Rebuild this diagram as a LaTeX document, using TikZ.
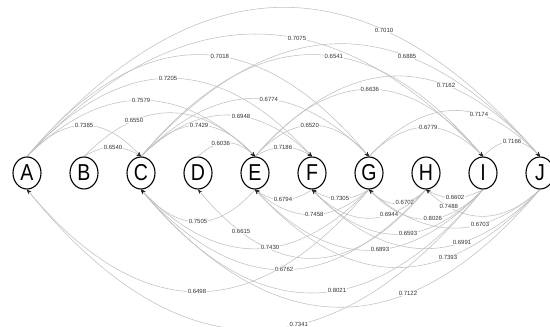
\documentclass[tikz,border=0pt]{standalone}
\usepackage{fontspec}
\setmainfont{Liberation Sans}
\usetikzlibrary{calc,shapes.geometric,arrows.meta}

\definecolor{edgegray}{HTML}{C0C0C0}
\definecolor{labgray}{HTML}{333333}

\pgfdeclarelayer{edgelayer}
\pgfsetlayers{edgelayer,main}

\tikzset{
  vert/.style={ellipse, draw=black, line width=1.1pt, fill=white,
    minimum width=28pt, minimum height=32pt, inner sep=0pt,
    font=\fontsize{23}{23}\selectfont},
  edge/.style={draw=edgegray, line width=0.55pt,
    -{Stealth[length=4.5pt,width=3.6pt,color=black!85]}},
  lbl/.style={fill=white, inner sep=0.5pt, text=labgray,
    font=\fontsize{6}{6}\selectfont}
}

% arc above the row: from #1 to #2, label #5 at pos #3, control height #4
\newcommand\overarc[5]{%
  \draw[edge] (#1.north)
    .. controls ($(#1.north)!0.3333!(#2.north)+(0,#4)$)
    and ($(#1.north)!0.6667!(#2.north)+(0,#4)$) .. (#2.north)
    node[lbl,pos=#3]{#5};}
% arc below the row
\newcommand\underarc[5]{%
  \draw[edge] (#1.south)
    .. controls ($(#1.south)!0.3333!(#2.south)+(0,-#4)$)
    and ($(#1.south)!0.6667!(#2.south)+(0,-#4)$) .. (#2.south)
    node[lbl,pos=#3]{#5};}
\newcommand\letter[1]{\scalebox{0.85}[1]{#1}}

\begin{document}
\begin{tikzpicture}[x=1pt,y=1pt]
\useasboundingbox (0,0) rectangle (550,327);

% vertices
\foreach \n [count=\i from 0] in {A,B,C,D,E,F,G,H,I,J}
  \node[vert] (\n) at ({27+57*\i},154) {\letter{\n}};

\begin{pgfonlayer}{edgelayer}
% edges above
\overarc{A}{C}{0.5}{41.3}{0.7385}
\overarc{B}{C}{0.51}{12}{0.6540}
\overarc{D}{E}{0.40}{18}{0.6036}
\overarc{E}{F}{0.49}{12}{0.7186}
\overarc{I}{J}{0.51}{20}{0.7166}
\overarc{C}{E}{0.51}{41.3}{0.7429}
\overarc{E}{G}{0.48}{41.4}{0.6520}
\overarc{G}{I}{0.52}{38.7}{0.6779}
\overarc{A}{E}{0.5}{74.7}{0.7579}
\overarc{E}{I}{0.504}{89.3}{0.6636}
\overarc{A}{F}{0.495}{104}{0.7205}
\overarc{A}{J}{0.696}{198.5}{0.7010}
\overarc{A}{G}{0.564}{135.5}{0.7018}
\overarc{A}{I}{0.592}{162.9}{0.7075}
\overarc{B}{E}{0.292}{58}{0.6550}
\overarc{C}{F}{0.585}{55}{0.6948}
\overarc{C}{G}{0.561}{77.2}{0.6774}
\overarc{C}{I}{0.564}{135.5}{0.6541}
\overarc{C}{J}{0.667}{150}{0.6885}
\overarc{E}{J}{0.67}{107}{0.7162}
\overarc{G}{J}{0.643}{61}{0.7174}

% edges below
\underarc{F}{E}{0.51}{13.3}{0.6794}
\underarc{G}{F}{0.51}{12}{0.7305}
\underarc{H}{G}{0.37}{18.6}{0.6702}
\underarc{I}{H}{0.49}{10.7}{0.6602}
\underarc{J}{H}{0.8}{35.4}{0.7488}
\underarc{E}{C}{0.5}{42.7}{0.7505}
\underarc{G}{E}{0.48}{33.4}{0.7458}
\underarc{H}{F}{0.325}{38}{0.6944}
\underarc{I}{G}{0.44}{39.3}{0.8026}
\underarc{J}{G}{0.351}{51.2}{0.6703}
\underarc{I}{F}{0.439}{59.5}{0.6593}
\underarc{I}{E}{0.452}{80.7}{0.6893}
\underarc{J}{F}{0.342}{78.5}{0.6991}
\underarc{J}{E}{0.323}{103.7}{0.7393}
\underarc{H}{C}{0.498}{106.7}{0.6762}
\underarc{G}{A}{0.503}{136}{0.6498}
\underarc{J}{C}{0.331}{156.6}{0.7122}
\underarc{I}{A}{0.404}{186.9}{0.7341}
\underarc{H}{D}{0.811}{91.5}{0.6615}
\underarc{G}{C}{0.434}{78.7}{0.7430}
\underarc{I}{C}{0.427}{137.6}{0.8021}
\end{pgfonlayer}
\end{tikzpicture}
\end{document}
